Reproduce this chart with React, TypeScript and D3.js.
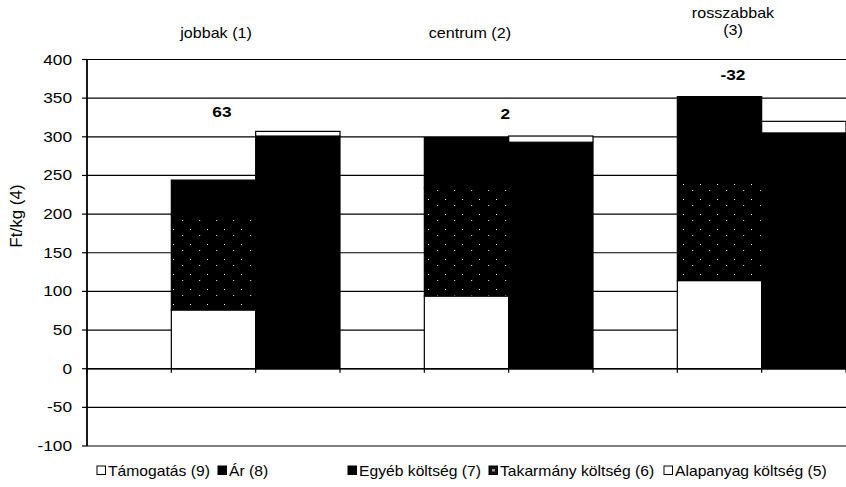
import React from 'react';
import * as d3 from 'd3';

// group (category) names shown at the top
const groups = ['jobbak (1)', 'centrum (2)', 'rosszabbak (3)'];

// cost bar components, Ft/kg
const alapanyag = [76, 94, 114];
const takarmany = [123, 140, 136];
const egyeb = [45, 65, 102];

// revenue bar components, Ft/kg
const ar = [301, 293, 305];
const tamogatas = [6, 8, 15];

// difference labels (revenue - cost)
const diffLabels = ['63', '2', '-32'];
const diffLabelValue = [326, 323, 374];
const diffLabelSlot = [1.6, 4.96, 7.66];
const groupLabelSlot = [1.53, 4.54, 7.66];

const yTicks = [-100, -50, 0, 50, 100, 150, 200, 250, 300, 350, 400];

const seriesKeys = ['alapanyag', 'takarmany', 'egyeb', 'ar', 'tamogatas'];
const legendKeys = ['tamogatas', 'ar', 'egyeb', 'takarmany', 'alapanyag'];
const legendLabels = [
  'Támogatás (9)',
  'Ár (8)',
  'Egyéb költség (7)',
  'Takarmány költség (6)',
  'Alapanyag költség (5)',
];

const W = 846;
const H = 487;
const left = 87;
const right = 846;
const top = 59.5;
const bottom = 446;
const SX = 1.15; // the scan is a bit stretched sideways
const FONT = '"Liberation Sans", Arial, sans-serif';
const legendX = [97, 218, 348, 489, 664];

const fills: Record<string, string> = {
  alapanyag: '#fff',
  takarmany: 'url(#speckle)',
  egyeb: '#000',
  ar: '#000',
  tamogatas: '#fff',
};

// three slots per group: an empty gap, the cost bar, the revenue bar
type Row = { key: string } & Record<string, number | string>;
const rows: Row[] = [];
groups.forEach((g, i) => {
  rows.push({ key: `gap${i}`, alapanyag: 0, takarmany: 0, egyeb: 0, ar: 0, tamogatas: 0 });
  rows.push({
    key: `cost${i}`,
    alapanyag: alapanyag[i],
    takarmany: takarmany[i],
    egyeb: egyeb[i],
    ar: 0,
    tamogatas: 0,
  });
  rows.push({
    key: `rev${i}`,
    alapanyag: 0,
    takarmany: 0,
    egyeb: 0,
    ar: ar[i],
    tamogatas: tamogatas[i],
  });
});

export default function App() {
  const x = d3.scaleBand<string>().domain(rows.map(r => r.key)).range([left, right]).padding(0);
  const slot = d3.scaleLinear().domain([0, rows.length]).range([left, right]);
  const y = d3.scaleLinear().domain([-100, 400]).range([bottom, top]);

  const stacked = d3.stack<Row>().keys(seriesKeys).value((d, k) => d[k] as number)(rows);

  const txt = (tx: number, ty: number, sx = SX) => `translate(${tx},${ty}) scale(${sx},1)`;

  return (
    <div style={{ position: 'fixed', left: 0, top: 0 }}>
      <svg width={W} height={H} style={{ display: 'block', background: '#fff' }}>
        <defs>
          <pattern id="speckle" width="17" height="15" patternUnits="userSpaceOnUse">
            <rect width="17" height="15" fill="#000" />
            <rect x="3" y="4" width="1" height="1" fill="#fff" />
            <rect x="12" y="10" width="1.2" height="1" fill="#ccc" />
          </pattern>
        </defs>

        {/* gridlines */}
        {yTicks.map(t => (
          <line key={t} x1={left} x2={right} y1={y(t)} y2={y(t)} stroke="#000" strokeWidth={1.2} />
        ))}

        {/* stacked bars */}
        {stacked.map(s => (
          <g key={s.key}>
            {s
              .filter(d => d[1] - d[0] > 0)
              .map(d => (
                <rect
                  key={d.data.key}
                  x={x(d.data.key)}
                  width={x.bandwidth()}
                  y={y(d[1])}
                  height={y(d[0]) - y(d[1])}
                  fill={fills[s.key]}
                  stroke="#000"
                  strokeWidth={1.2}
                />
              ))}
          </g>
        ))}

        {/* y axis */}
        <line x1={left} x2={left} y1={top} y2={bottom} stroke="#000" strokeWidth={1.8} />
        {yTicks.map(t => (
          <g key={t}>
            <line x1={left - 5} x2={left} y1={y(t)} y2={y(t)} stroke="#000" strokeWidth={1.2} />
            <text
              transform={txt(72, y(t) + 5)}
              textAnchor="end"
              fontFamily={FONT}
              fontSize={15}
              fill="#000"
            >
              {t}
            </text>
          </g>
        ))}

        {/* x axis ticks at slot boundaries */}
        {d3.range(rows.length + 1).map(i => (
          <line key={i} x1={slot(i)} x2={slot(i)} y1={y(0)} y2={y(0) + 4} stroke="#000" strokeWidth={1.2} />
        ))}
        <line x1={left} x2={right} y1={y(0)} y2={y(0)} stroke="#000" strokeWidth={1.4} />

        {/* y label */}
        <text
          transform={`translate(22,216) rotate(-90)`}
          textAnchor="middle"
          fontFamily={FONT}
          fontSize={17}
          fill="#000"
        >
          Ft/kg (4)
        </text>

        {/* group labels */}
        {groups.map((g, i) => {
          const m = g.match(/^(\S+)\s(\(\d\))$/);
          const cx = slot(groupLabelSlot[i]);
          if (i === 2 && m) {
            return (
              <g key={g}>
                <text transform={txt(cx, 18)} textAnchor="middle" fontFamily={FONT} fontSize={14}>
                  {m[1]}
                </text>
                <text transform={txt(cx, 35)} textAnchor="middle" fontFamily={FONT} fontSize={14}>
                  {m[2]}
                </text>
              </g>
            );
          }
          return (
            <text key={g} transform={txt(cx, 38)} textAnchor="middle" fontFamily={FONT} fontSize={14}>
              {g}
            </text>
          );
        })}

        {/* difference labels */}
        {diffLabels.map((l, i) => (
          <text
            key={l}
            transform={txt(slot(diffLabelSlot[i]), y(diffLabelValue[i]))}
            textAnchor="middle"
            fontFamily={FONT}
            fontSize={15}
            fontWeight="bold"
          >
            {l}
          </text>
        ))}

        {/* legend */}
        {legendKeys.map((k, i) => (
          <g key={k}>
            <rect
              x={legendX[i]}
              y={466}
              width={8.5}
              height={8.5}
              fill={k === 'takarmany' ? '#111' : fills[k]}
              stroke="#000"
              strokeWidth={1}
            />
            {k === 'takarmany' && <rect x={legendX[i] + 3} y={469} width={3} height={2.5} fill="#999" />}
            <text transform={txt(legendX[i] + 11, 476, 1.12)} fontFamily={FONT} fontSize={14}>
              {legendLabels[i]}
            </text>
          </g>
        ))}
      </svg>
    </div>
  );
}
